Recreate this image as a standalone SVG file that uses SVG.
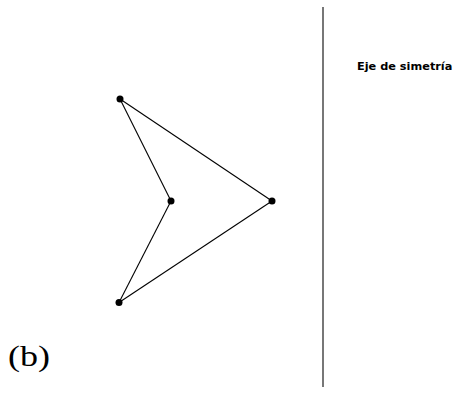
<svg xmlns="http://www.w3.org/2000/svg" width="470" height="400" viewBox="0 0 470 400">
<style>
.edge{stroke:#000;stroke-width:1.1;fill:none}
.pt{fill:#000}
.axis{stroke:#555;stroke-width:1.6}
.lbl{font-family:"DejaVu Sans",sans-serif;font-weight:bold;font-size:11.3px;fill:#000}
.cap{font-family:"Liberation Serif",serif;font-size:30px;fill:#000}
</style>
<rect width="470" height="400" fill="#fff"/>
<g id="connectors">
<line class="edge" x1="120" y1="99" x2="171" y2="201"/>
<line class="edge" x1="120" y1="99" x2="272" y2="201"/>
<line class="edge" x1="171" y1="201" x2="119" y2="302.5"/>
<line class="edge" x1="272" y1="201" x2="119" y2="302.5"/>
</g>
<g id="axis"><line class="axis" x1="323" y1="7" x2="323" y2="387"/></g>
<g id="p1"><circle class="pt" cx="120" cy="99" r="3.5"/></g>
<g id="p2"><circle class="pt" cx="171" cy="201" r="3.5"/></g>
<g id="p3"><circle class="pt" cx="272" cy="201" r="3.5"/></g>
<g id="p4"><circle class="pt" cx="119" cy="302.5" r="3.5"/></g>
<g id="label"><text class="lbl" x="357" y="70">Eje de simetría</text></g>
<g id="caption"><text class="cap" x="8" y="366" textLength="42" lengthAdjust="spacingAndGlyphs">(b)</text></g>
</svg>
